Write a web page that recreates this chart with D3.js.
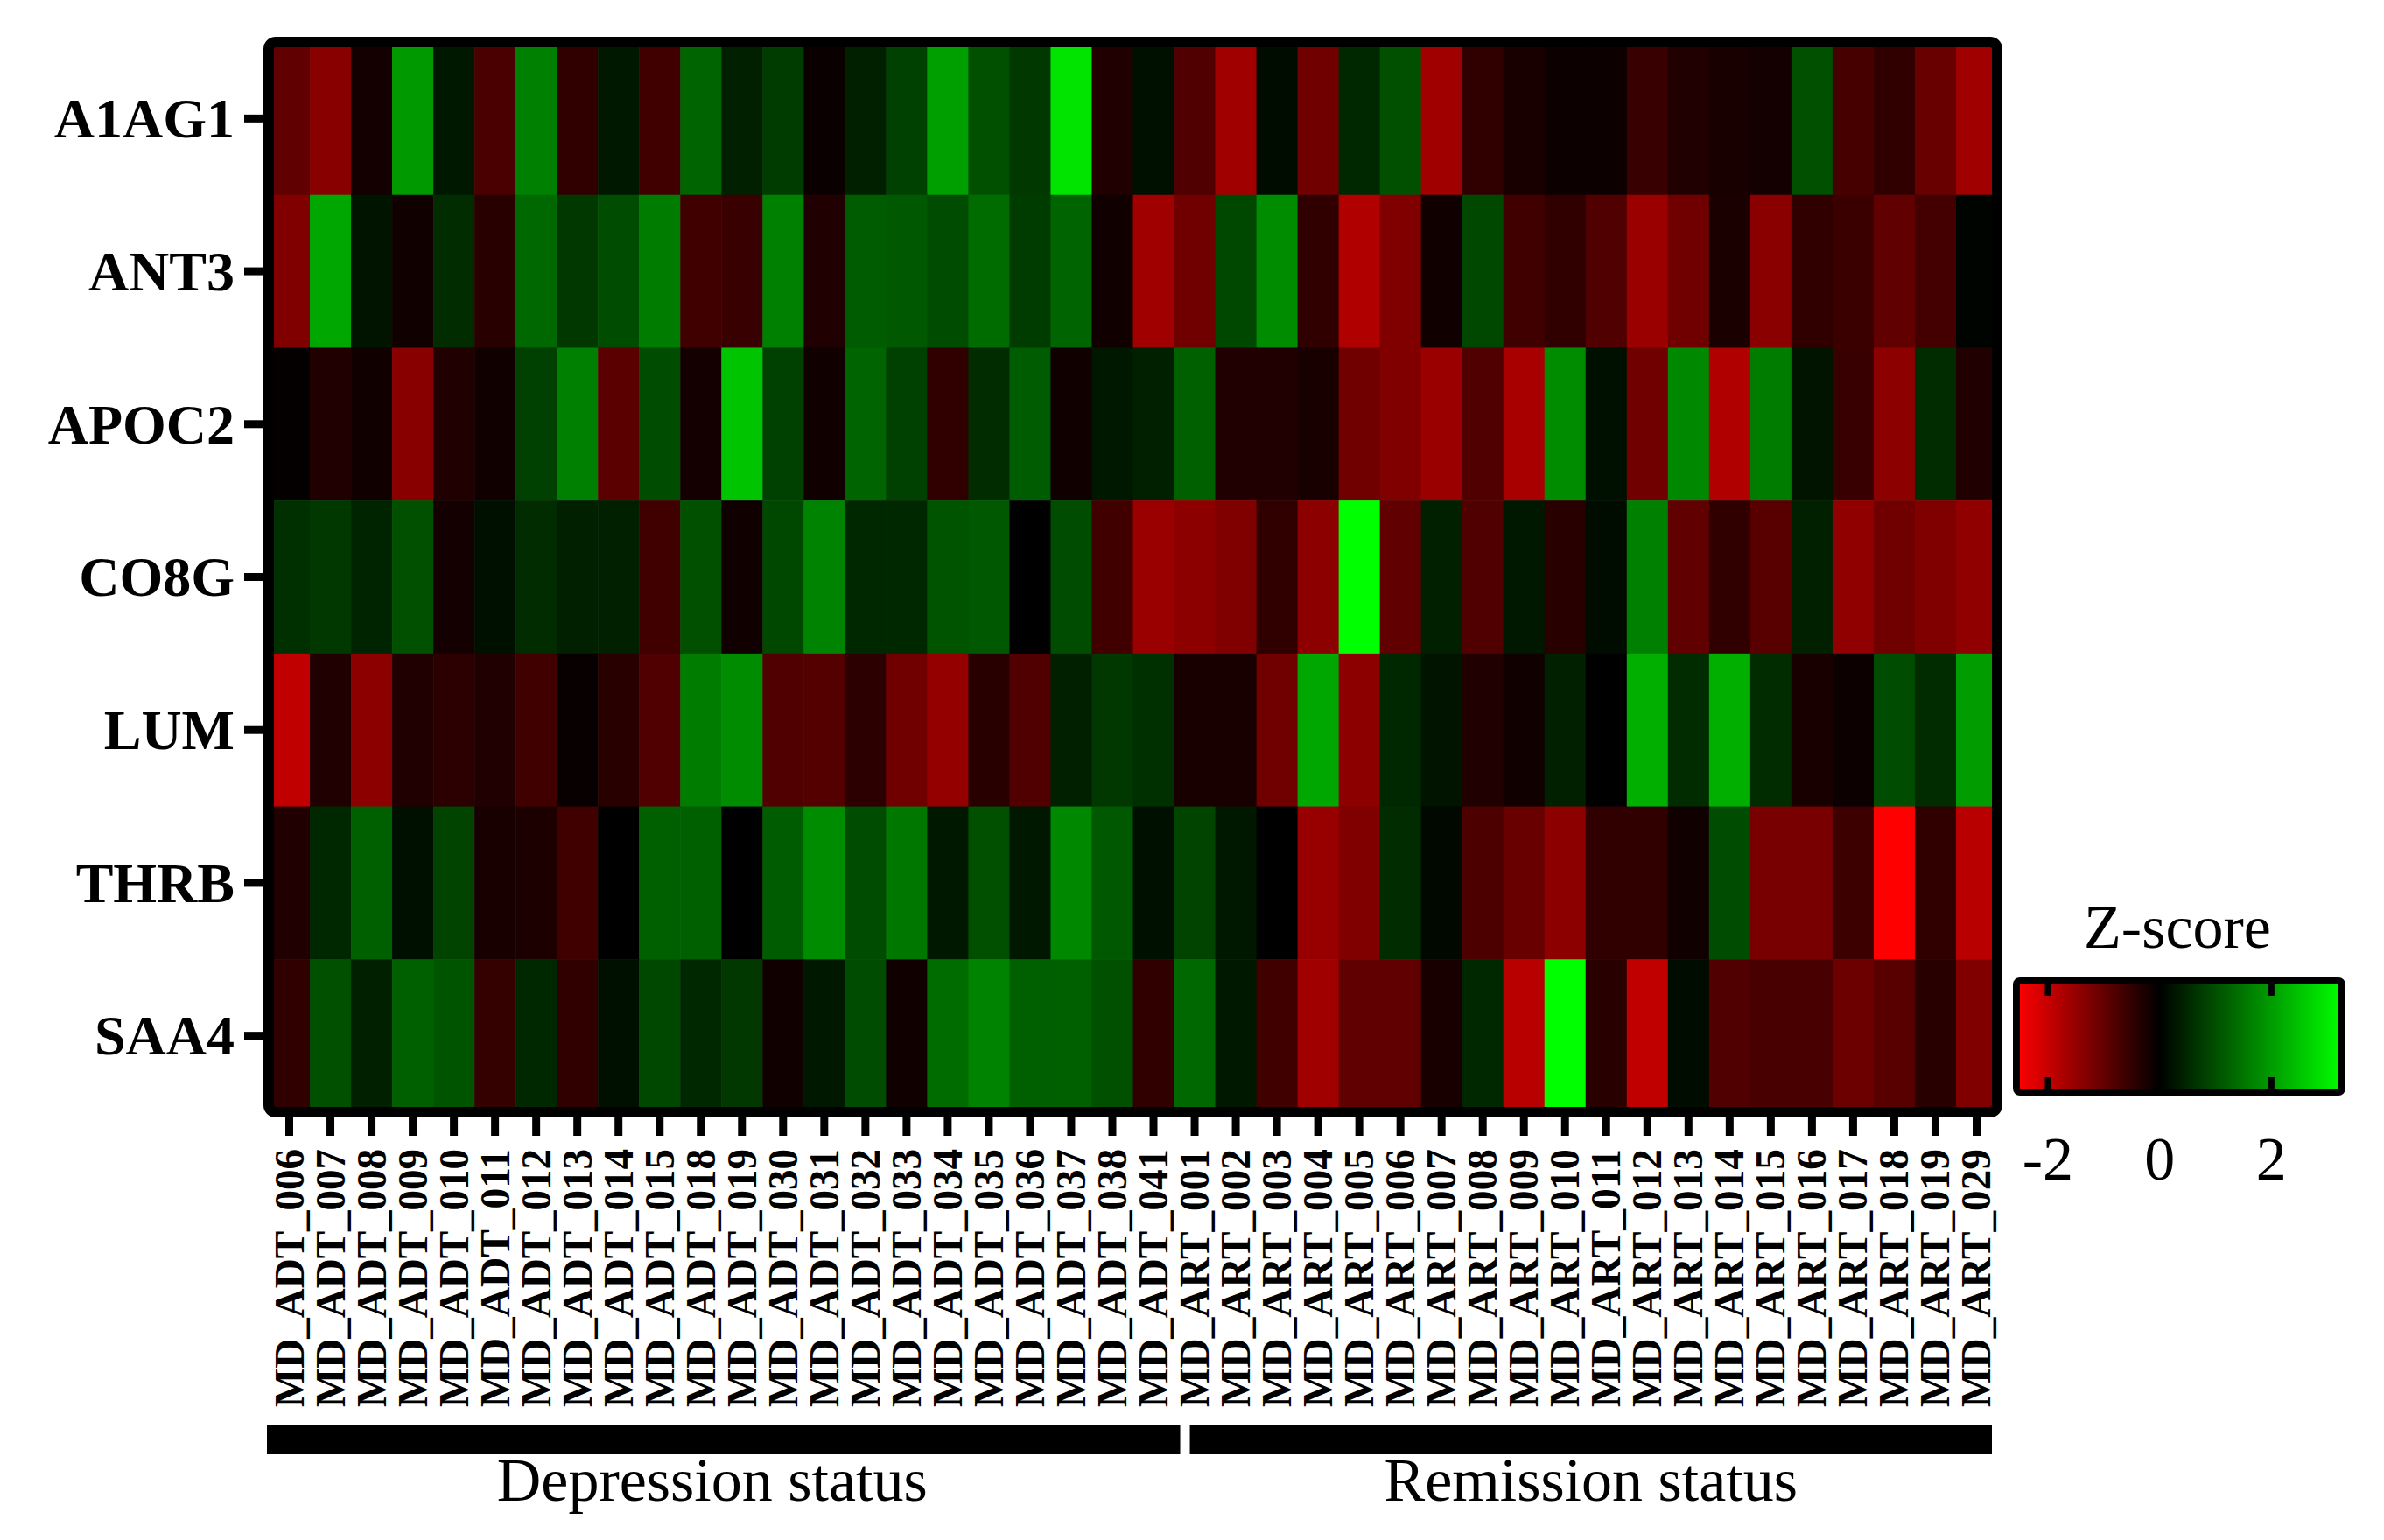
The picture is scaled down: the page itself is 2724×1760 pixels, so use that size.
<!DOCTYPE html>
<html>
<head>
<meta charset="utf-8">
<script src="https://cdn.jsdelivr.net/npm/d3@7"></script>
<style>
body { margin: 0; background: #fff; }
svg text { font-family: "Liberation Serif", "Times New Roman", serif; }
</style>
</head>
<body>
<div id="chart"></div>
<script>
const width = 2724
const height = 1760

var genes = ["A1AG1", "ANT3", "APOC2", "CO8G", "LUM", "THRB", "SAA4"];
var adtIds = ["006","007","008","009","010","011","012","013","014","015","018","019","030","031","032","033","034","035","036","037","038","041"];
var artIds = ["001","002","003","004","005","006","007","008","009","010","011","012","013","014","015","016","017","018","019","029"];
var groups = ["Depression status", "Remission status"];
var legendTicks = [-2, 0, 2];

// z-scores, depression samples first then remission samples
var A1AG1 = [-0.94,-1.33,-0.2,1.93,0.3,-0.73,1.6,-0.47,0.3,-0.63,1.25,0.4,0.75,-0.1,0.4,0.8,2.0,1.0,0.7,2.86,-0.31,0.2,
	-0.78,-1.57,0.15,-1.1,0.5,1.0,-1.57,-0.47,-0.24,-0.12,-0.12,-0.55,-0.31,-0.24,-0.2,1.0,-0.7,-0.47,-1.02,-1.57];
var ANT3 = [-1.25,2.1,0.25,-0.16,0.55,-0.39,1.3,0.7,0.95,1.55,-0.63,-0.55,1.6,-0.31,1.15,1.1,0.95,1.35,0.75,1.25,-0.16,-1.57,
	-1.1,0.9,1.76,-0.47,-1.73,-1.25,-0.16,0.9,-0.63,-0.47,-0.78,-1.51,-1.1,-0.26,-1.35,-0.47,-0.57,-0.94,-0.67,0.05];
var APOC2 = [-0.05,-0.31,-0.16,-1.33,-0.31,-0.16,0.8,1.6,-0.88,0.95,-0.2,2.46,0.8,-0.16,1.25,0.8,-0.47,0.55,1.15,-0.16,0.3,0.4,
	1.2,-0.31,-0.31,-0.24,-1.1,-1.25,-1.51,-0.78,-1.65,1.76,0.2,-1.1,1.71,-1.73,1.55,0.25,-0.55,-1.37,0.55,-0.31];
var CO8G = [0.6,0.7,0.45,1.0,-0.2,0.2,0.55,0.4,0.4,-0.63,1.0,-0.16,0.9,1.65,0.5,0.5,1.05,1.1,0,0.95,-0.63,-1.51,
	-1.37,-1.25,-0.47,-1.37,3.2,-0.94,0.4,-0.78,0.3,-0.39,0.15,1.6,-0.94,-0.47,-0.86,0.4,-1.41,-1.1,-1.25,-1.41];
var LUM = [-1.88,-0.31,-1.37,-0.31,-0.43,-0.31,-0.63,-0.08,-0.39,-0.78,1.55,1.76,-0.78,-0.82,-0.43,-1.1,-1.45,-0.39,-0.78,0.4,0.7,0.6,
	-0.24,-0.24,-1.1,2.1,-1.37,0.5,0.25,-0.31,-0.16,0.4,0,2.2,0.55,2.2,0.55,-0.24,-0.12,0.95,0.55,1.96];
var THRB = [-0.31,0.5,1.2,0.2,0.85,-0.24,-0.27,-0.63,0,1.2,1.2,0,1.15,1.76,0.95,1.5,0.3,1.0,0.3,1.71,1.1,0.2,
	0.85,0.3,0,-1.49,-1.25,0.55,0.1,-0.75,-1.02,-1.37,-0.47,-0.47,-0.16,0.95,-1.18,-1.18,-0.59,-2.5,-0.47,-1.8];
var SAA4 = [-0.47,1.0,0.4,1.2,1.05,-0.51,0.5,-0.47,0.2,0.9,0.5,0.7,-0.16,0.3,0.95,-0.16,1.35,1.65,1.2,1.2,1.0,-0.47,
	1.3,0.3,-0.63,-1.57,-0.94,-0.94,-0.24,0.5,-1.8,3.2,-0.39,-1.88,0.15,-0.78,-0.71,-0.71,-1.06,-0.86,-0.39,-1.25];

var rows = [A1AG1, ANT3, APOC2, CO8G, LUM, THRB, SAA4];
var samples = adtIds.map(d => "MD_ADT_" + d).concat(artIds.map(d => "MD_ART_" + d));

var cells = [];
rows.forEach((r, i) => r.forEach((v, j) => cells.push({gene: genes[i], sample: samples[j], value: v})));

var x0 = 307, x1 = 2282, y0 = 48, y1 = 1271;

var x = d3.scaleBand().domain(samples).range([x0, x1]);
var y = d3.scaleBand().domain(genes).range([y0, y1]);
var color = d3.scaleLinear().domain([-2.5, 0, 3.2]).range(["#ff0000", "#000000", "#00ff00"]).clamp(true);

var svg = d3.select("#chart").append("svg")
	.attr("width", width)
	.attr("height", height)

svg.append("rect").attr("width", width).attr("height", height).style("fill", "#fff")

svg.append("g").selectAll("rect").data(cells).enter().append("rect")
	.attr("x", d => x(d.sample))
	.attr("y", d => y(d.gene))
	.attr("width", x.bandwidth() + 0.6)
	.attr("height", y.bandwidth() + 0.6)
	.style("fill", d => color(d.value))

svg.append("rect")
	.attr("x", x0)
	.attr("y", y0)
	.attr("width", x1 - x0)
	.attr("height", y1 - y0)
	.attr("rx", 8)
	.attr("ry", 8)
	.style("fill", "none")
	.style("stroke", "#000")
	.style("stroke-width", 12)

// gene axis
var yAxis = svg.append("g")
	.attr("transform", "translate(" + (x0 - 4) + ",0)")
	.call(d3.axisLeft(y).tickSize(24).tickPadding(11))
yAxis.select(".domain").remove()
yAxis.selectAll(".tick line").style("stroke", "#000").style("stroke-width", 9)
yAxis.selectAll(".tick text")
	.attr("dy", "0.34em")
	.style("font-family", "Liberation Serif, serif")
	.style("font-weight", "bold")
	.style("font-size", "64px")
	.style("fill", "#000")

// sample axis
var xAxis = svg.append("g")
	.attr("transform", "translate(0," + (y1 + 4) + ")")
	.call(d3.axisBottom(x).tickSize(23))
xAxis.select(".domain").remove()
xAxis.selectAll(".tick line").style("stroke", "#000").style("stroke-width", 9)
xAxis.selectAll(".tick text")
	.attr("transform", "rotate(-90)")
	.attr("x", -38)
	.attr("y", 16)
	.attr("dy", 0)
	.attr("text-anchor", "end")
	.attr("textLength", 295)
	.attr("lengthAdjust", "spacingAndGlyphs")
	.style("font-family", "Liberation Serif, serif")
	.style("font-weight", "bold")
	.style("font-size", "48px")
	.style("fill", "#000")

// group bars
var split = x(samples[adtIds.length]);
var bars = [{name: groups[0], a: x0 - 2, b: split + 7}, {name: groups[1], a: split + 18, b: x1 - 6}];
svg.selectAll("rect.grp").data(bars).enter().append("rect")
	.attr("class", "grp")
	.attr("x", d => d.a)
	.attr("y", 1628)
	.attr("width", d => d.b - d.a)
	.attr("height", 34)
	.style("fill", "#000")
svg.selectAll("text.grp").data(bars).enter().append("text")
	.attr("class", "grp")
	.attr("x", (d, i) => (d.a + d.b) / 2 - (i == 0 ? 13 : 0))
	.attr("y", 1715)
	.attr("text-anchor", "middle")
	.style("font-size", "70px")
	.text(d => d.name)

// legend
var lx = d3.scaleLinear().domain([-2.5, 3.2]).range([2308, 2672]);
var grad = svg.append("defs").append("linearGradient").attr("id", "zgrad")
grad.selectAll("stop").data(color.domain()).enter().append("stop")
	.attr("offset", d => (lx(d) - 2308) / (2672 - 2308))
	.attr("stop-color", d => color(d))

svg.append("text")
	.attr("x", 2488)
	.attr("y", 1083)
	.attr("text-anchor", "middle")
	.style("font-size", "70px")
	.text("Z-score")

svg.append("rect")
	.attr("x", 2304)
	.attr("y", 1121)
	.attr("width", 372)
	.attr("height", 127)
	.attr("rx", 4)
	.style("fill", "url(#zgrad)")
	.style("stroke", "#000")
	.style("stroke-width", 8)

var marks = svg.append("g")
marks.selectAll("line.top").data(legendTicks.filter(d => d != 0)).enter().append("line")
	.attr("x1", d => lx(d)).attr("x2", d => lx(d))
	.attr("y1", 1124).attr("y2", 1138)
	.style("stroke", "#000").style("stroke-width", 7)
marks.selectAll("line.bot").data(legendTicks.filter(d => d != 0)).enter().append("line")
	.attr("x1", d => lx(d)).attr("x2", d => lx(d))
	.attr("y1", 1231).attr("y2", 1245)
	.style("stroke", "#000").style("stroke-width", 7)

svg.selectAll("text.lt").data(legendTicks).enter().append("text")
	.attr("class", "lt")
	.attr("x", d => lx(d))
	.attr("y", 1348)
	.attr("text-anchor", "middle")
	.style("font-size", "70px")
	.text(d => d)
</script>
</body>
</html>
